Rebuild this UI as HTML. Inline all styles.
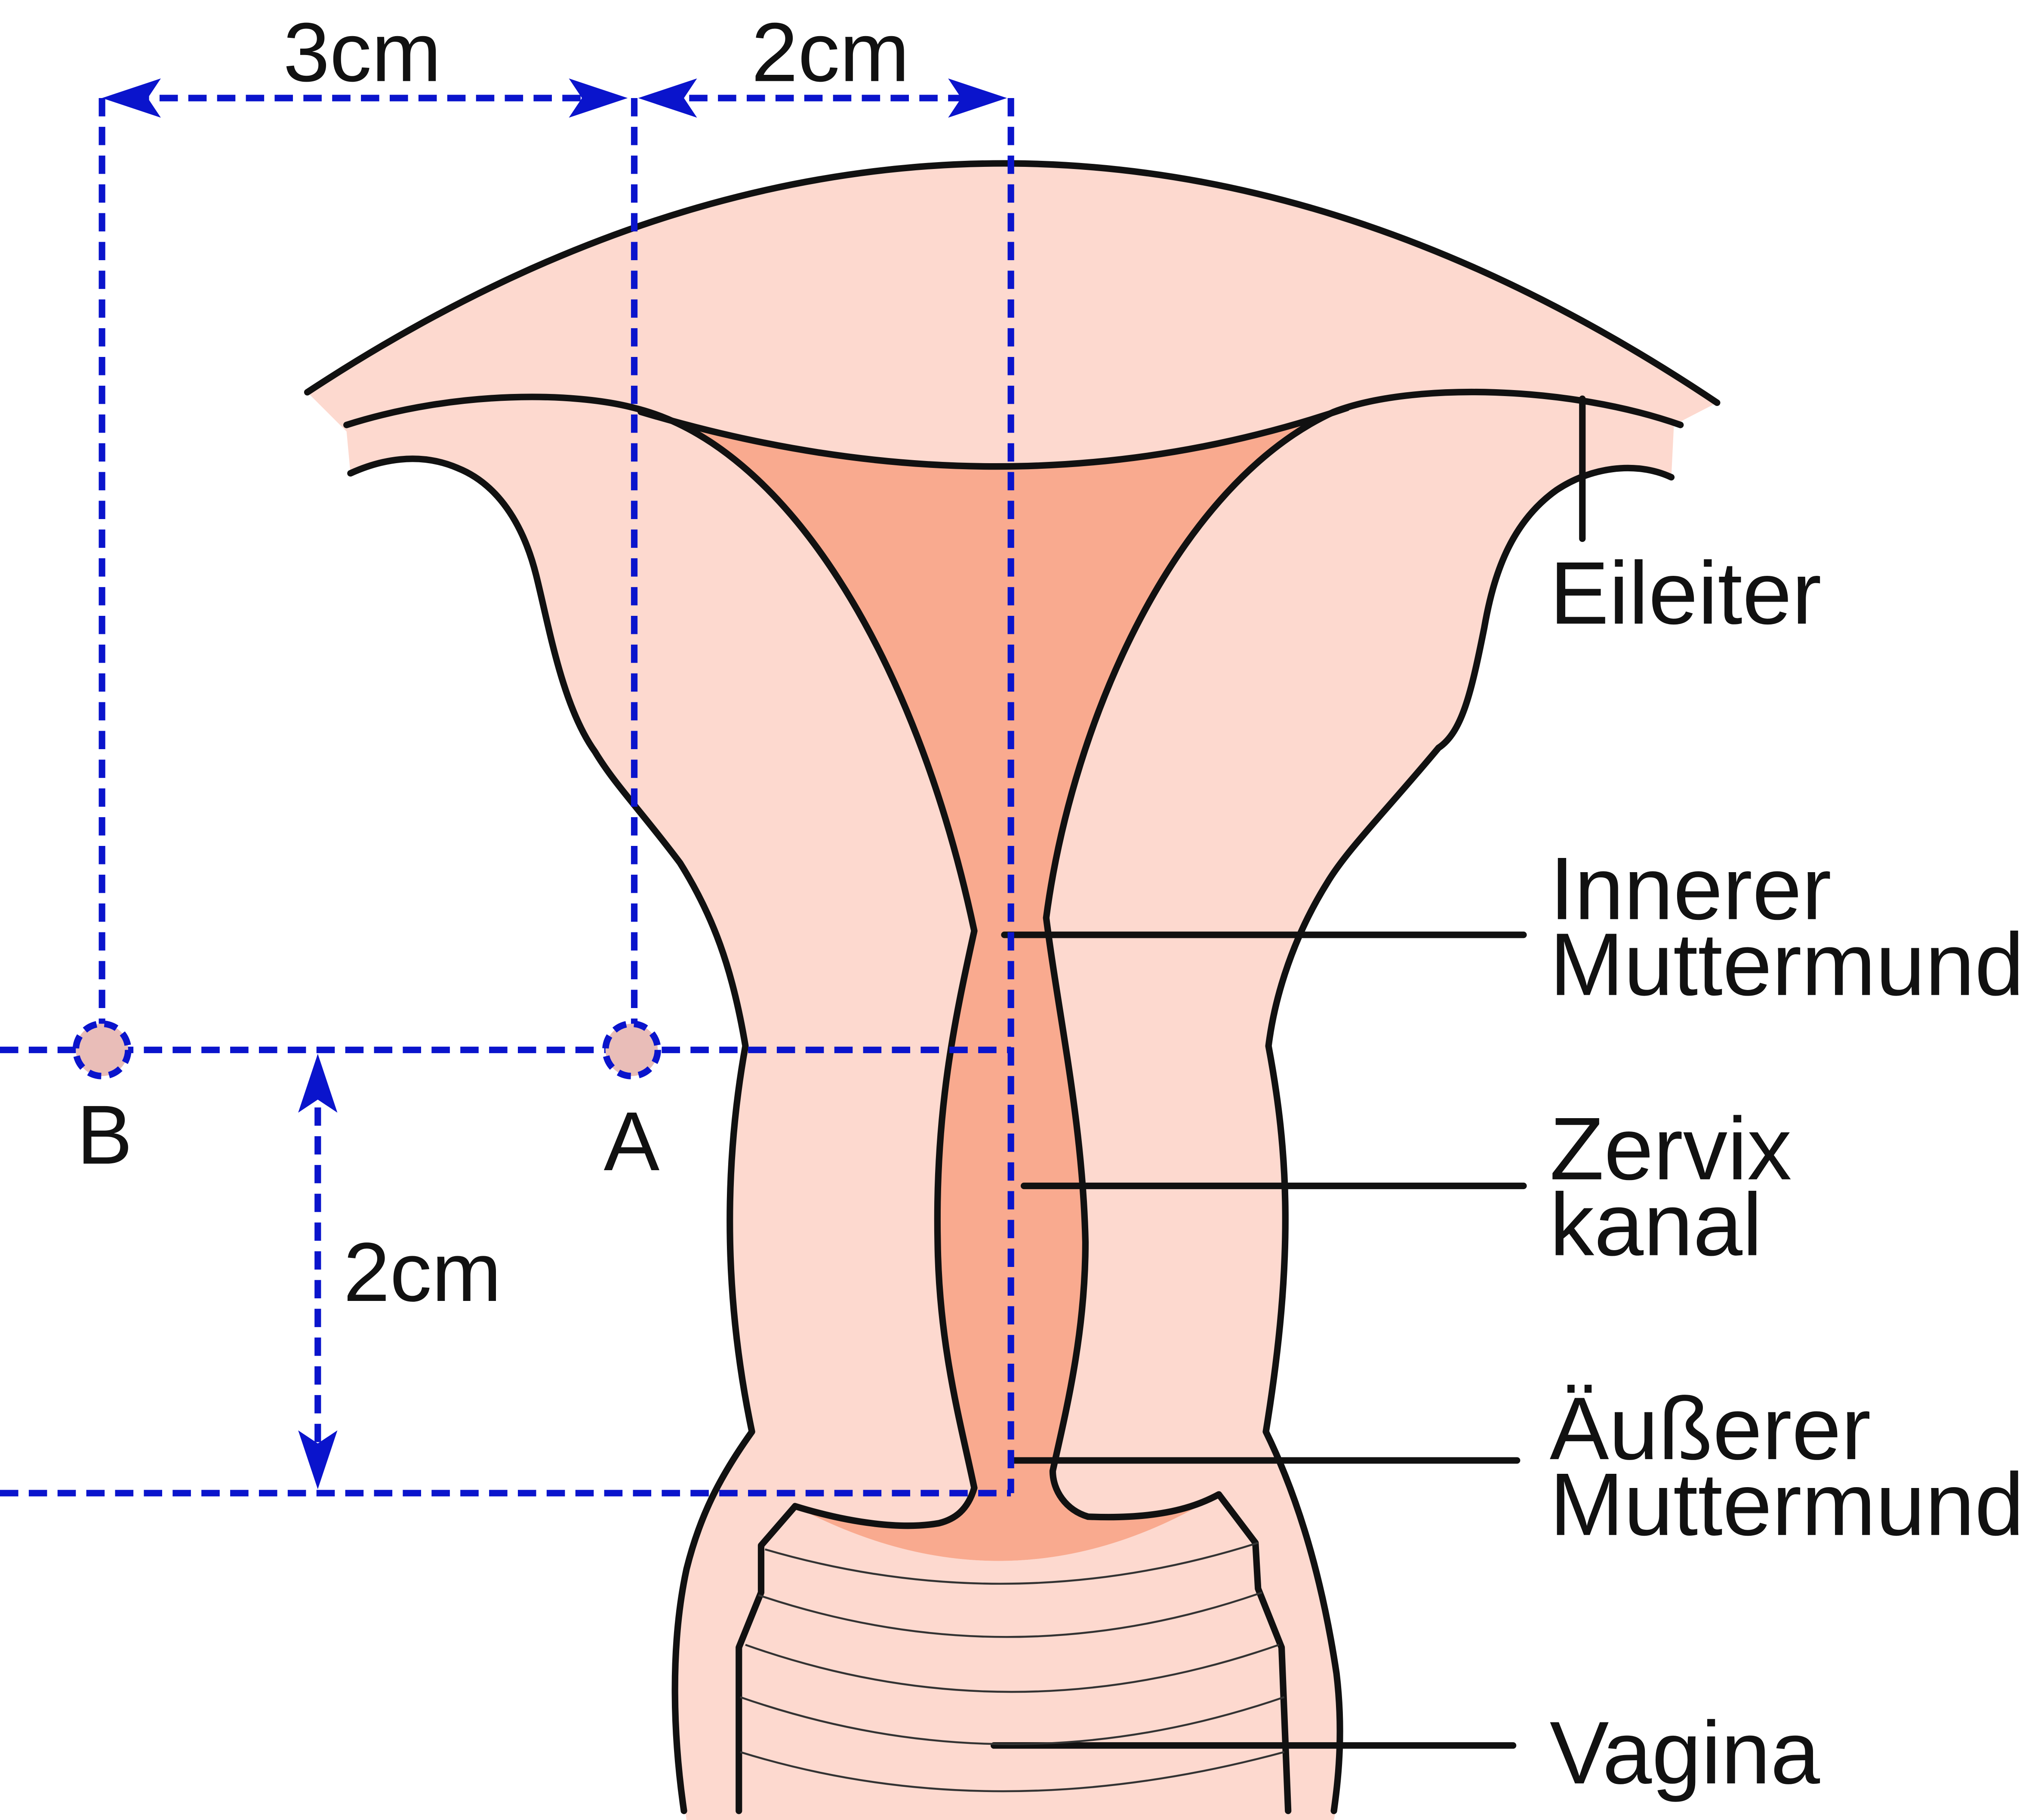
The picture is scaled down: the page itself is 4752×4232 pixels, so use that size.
<!DOCTYPE html>
<html><head><meta charset="utf-8"><style>
html,body{margin:0;padding:0;background:#fff;}
svg{display:block;}
text{font-family:"Liberation Sans",sans-serif;fill:#111;}
</style></head><body>
<svg width="4752" height="4232" viewBox="0 0 1563 1392" preserveAspectRatio="none" xmlns="http://www.w3.org/2000/svg">
<rect width="1563" height="1392" fill="#fff"/>
<path fill="#fdd9cf" d="M235,300 Q773,-54 1313,308 L1280,325 L1278,365 C1250,352 1215,358 1190,375 C1155,400 1142,440 1135,480 C1125,530 1118,560 1100,572 C1060,620 1030,650 1015,675 C990,715 975,760 970,800 C985,880 990,960 968,1095 C990,1140 1010,1200 1022,1280 C1028,1330 1022,1385 1020,1392 L525,1392 C515,1330 512,1260 525,1200 C535,1160 550,1130 575,1095 C555,1000 552,900 570,800 C560,740 545,700 520,660 C490,620 470,600 455,575 C430,540 420,480 410,440 C400,400 380,370 350,358 C320,345 290,352 268,362 L265,330 Z"/>
<path fill="#f9aa8f" d="M490,315 C600,340 700,500 745,712 C730,780 715,850 717,950 C718,1030 735,1090 745,1138 C740,1155 730,1162 718,1165 C690,1170 650,1165 608,1152 Q773,1240 932,1143 C910,1155 880,1162 832,1160 C815,1155 805,1140 805,1125 C815,1080 830,1020 830,950 C828,860 810,780 800,702 C820,550 900,370 1030,312 Q773,400 490,315 Z"/>
<path fill="#fdd9cf" d="M608,1152 Q773,1240 932,1143 L960,1180 L962,1215 L980,1260 L985,1392 L565,1392 L565,1260 L582,1218 L582,1182 Z"/>
<g fill="none" stroke="#111" stroke-width="5" stroke-linecap="round" stroke-linejoin="round">
<path d="M235,300 Q773,-54 1313,308"/>
<path d="M265,325 C350,298 440,300 485,312 C600,340 700,500 745,712 C730,780 715,850 717,950 C718,1030 735,1090 745,1138 C740,1155 730,1162 718,1165 C690,1170 650,1165 608,1152 L582,1182 L582,1218 L565,1260 L565,1385"/>
<path d="M1285,325 C1200,295 1080,292 1020,315 C900,370 820,550 800,702 C810,780 828,860 830,950 C830,1020 815,1080 805,1125 C805,1140 815,1155 832,1160 C880,1162 910,1155 932,1143 L960,1180 L962,1215 L980,1260 L985,1385"/>
<path d="M490,315 Q773,400 1030,312"/>
<path d="M268,362 C290,352 320,345 350,358 C380,370 400,400 410,440 C420,480 430,540 455,575 C470,600 490,620 520,660 C545,700 560,740 570,800 C552,900 555,1000 575,1095 C550,1130 535,1160 525,1200 C512,1260 515,1330 523,1385"/>
<path d="M1278,365 C1250,352 1215,358 1190,375 C1155,400 1142,440 1135,480 C1125,530 1118,560 1100,572 C1060,620 1030,650 1015,675 C990,715 975,760 970,800 C985,880 990,960 968,1095 C990,1140 1010,1200 1022,1280 C1028,1330 1022,1370 1020,1385"/>
<path d="M1210,305 L1210,412"/>
<path d="M768,715 L1165,715"/>
<path d="M783,907 L1165,907"/>
<path d="M775,1117 L1160,1117"/>
<path d="M760,1335 L1157,1335"/>
</g>
<g fill="none" stroke="#333" stroke-width="1.5">
<path d="M585,1185 Q773,1240 962,1180"/>
<path d="M580,1220 Q773,1285 965,1218"/>
<path d="M570,1258 Q773,1330 978,1258"/>
<path d="M566,1298 Q773,1370 982,1298"/>
<path d="M566,1340 Q760,1400 982,1340"/>
</g>
<g fill="none" stroke="#0a14cc" stroke-width="5" stroke-dasharray="14,8">
<path d="M100,75 L465,75"/>
<path d="M505,75 L753,75"/>
<path d="M78,75 L78,783"/>
<path d="M485,75 L485,783"/>
<path d="M773,75 L773,1142"/>
<path d="M0,803 L773,803"/>
<path d="M0,1142 L773,1142"/>
<path d="M243,825 L243,1120"/>
</g>
<g fill="#0a14cc">
<polygon points="78,75 123,60 113,75 123,90"/>
<polygon points="480,75 435,60 445,75 435,90"/>
<polygon points="488,75 533,60 523,75 533,90"/>
<polygon points="770,75 725,60 735,75 725,90"/>
<polygon points="243,806 228,851 243,841 258,851"/>
<polygon points="243,1139 228,1094 243,1104 258,1094"/>
</g>
<circle cx="78" cy="803" r="20" fill="#e9bdb8" stroke="#0a14cc" stroke-width="5" stroke-dasharray="10,6"/>
<circle cx="483" cy="803" r="20" fill="#e9bdb8" stroke="#0a14cc" stroke-width="5" stroke-dasharray="10,6"/>
<g font-size="64">
<text x="277" y="62" text-anchor="middle">3cm</text>
<text x="635" y="62" text-anchor="middle">2cm</text>
<text x="323" y="995" text-anchor="middle">2cm</text>
<text x="80" y="890" text-anchor="middle">B</text>
<text x="483" y="895" text-anchor="middle">A</text>
</g>
<g font-size="68">
<text x="1185" y="477">Eileiter</text>
<text x="1185" y="703">Innerer</text>
<text x="1185" y="761">Muttermund</text>
<text x="1185" y="902">Zervix</text>
<text x="1185" y="960">kanal</text>
<text x="1185" y="1116">Äußerer</text>
<text x="1185" y="1174">Muttermund</text>
<text x="1185" y="1364">Vagina</text>
</g>
</svg>
</body></html>
